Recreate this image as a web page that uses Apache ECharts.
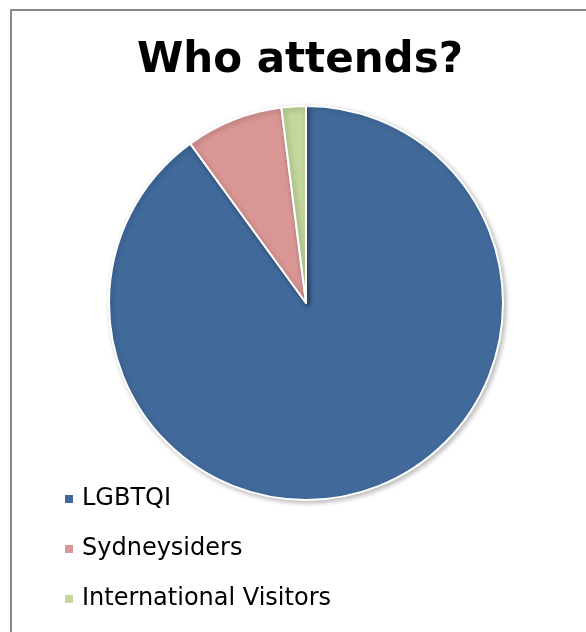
<!DOCTYPE html>
<html>
<head>
<meta charset="utf-8">
<script src="https://cdn.jsdelivr.net/npm/echarts@6/dist/echarts.min.js"></script>
<style>
html, body { margin: 0; padding: 0; background: #fff; }
#pie { width: 586px; height: 632px; }
</style>
</head>
<body>
<div id="pie"></div>
<script>
// 数据
var names = ['LGBTQI', 'Sydneysiders', 'International Visitors'];
var values = [90, 8, 2];
var colors = ['#416a9b', '#d99694', '#c3d69b'];

var pie = echarts.init(document.getElementById('pie'));

var option = {
    backgroundColor: '#fff',
    animation: false,
    title: {
        text: 'Who attends?',
        left: 300,
        textAlign: 'center',
        top: 40,
        padding: 0,
        textStyle: {
            fontFamily: 'DejaVu Sans',
            fontWeight: 'bold',
            fontSize: 42,
            color: '#000'
        }
    },
    legend: {
        orient: 'vertical',
        left: 63,
        top: 487,
        padding: 0,
        itemWidth: 10,
        itemHeight: 10,
        itemGap: 26,
        icon: 'rect',
        data: names,
        textStyle: {
            fontFamily: 'DejaVu Sans',
            fontSize: 24,
            lineHeight: 24,
            color: '#000',
            padding: [0, 0, 0, 3]
        }
    },
    graphic: [{
        type: 'rect',
        shape: { x: 11, y: 10, width: 700, height: 700 },
        style: { fill: 'none', stroke: '#888', lineWidth: 2 },
        silent: true
    }],
    series: [
        {
            name: 'Who attends?',
            type: 'pie',
            center: [306, 303],
            radius: 197,
            startAngle: 90,
            clockwise: true,
            label: { show: false },
            labelLine: { show: false },
            data: names.map(function (n, i) {
                return { name: n, value: values[i], itemStyle: { color: colors[i] } };
            }),
            itemStyle: {
                borderColor: '#fff',
                borderWidth: 2,
                shadowBlur: 5,
                shadowOffsetX: 2,
                shadowOffsetY: 2,
                shadowColor: 'rgba(0,0,0,0.25)'
            }
        }
    ]
};

pie.setOption(option);
</script>
</body>
</html>
